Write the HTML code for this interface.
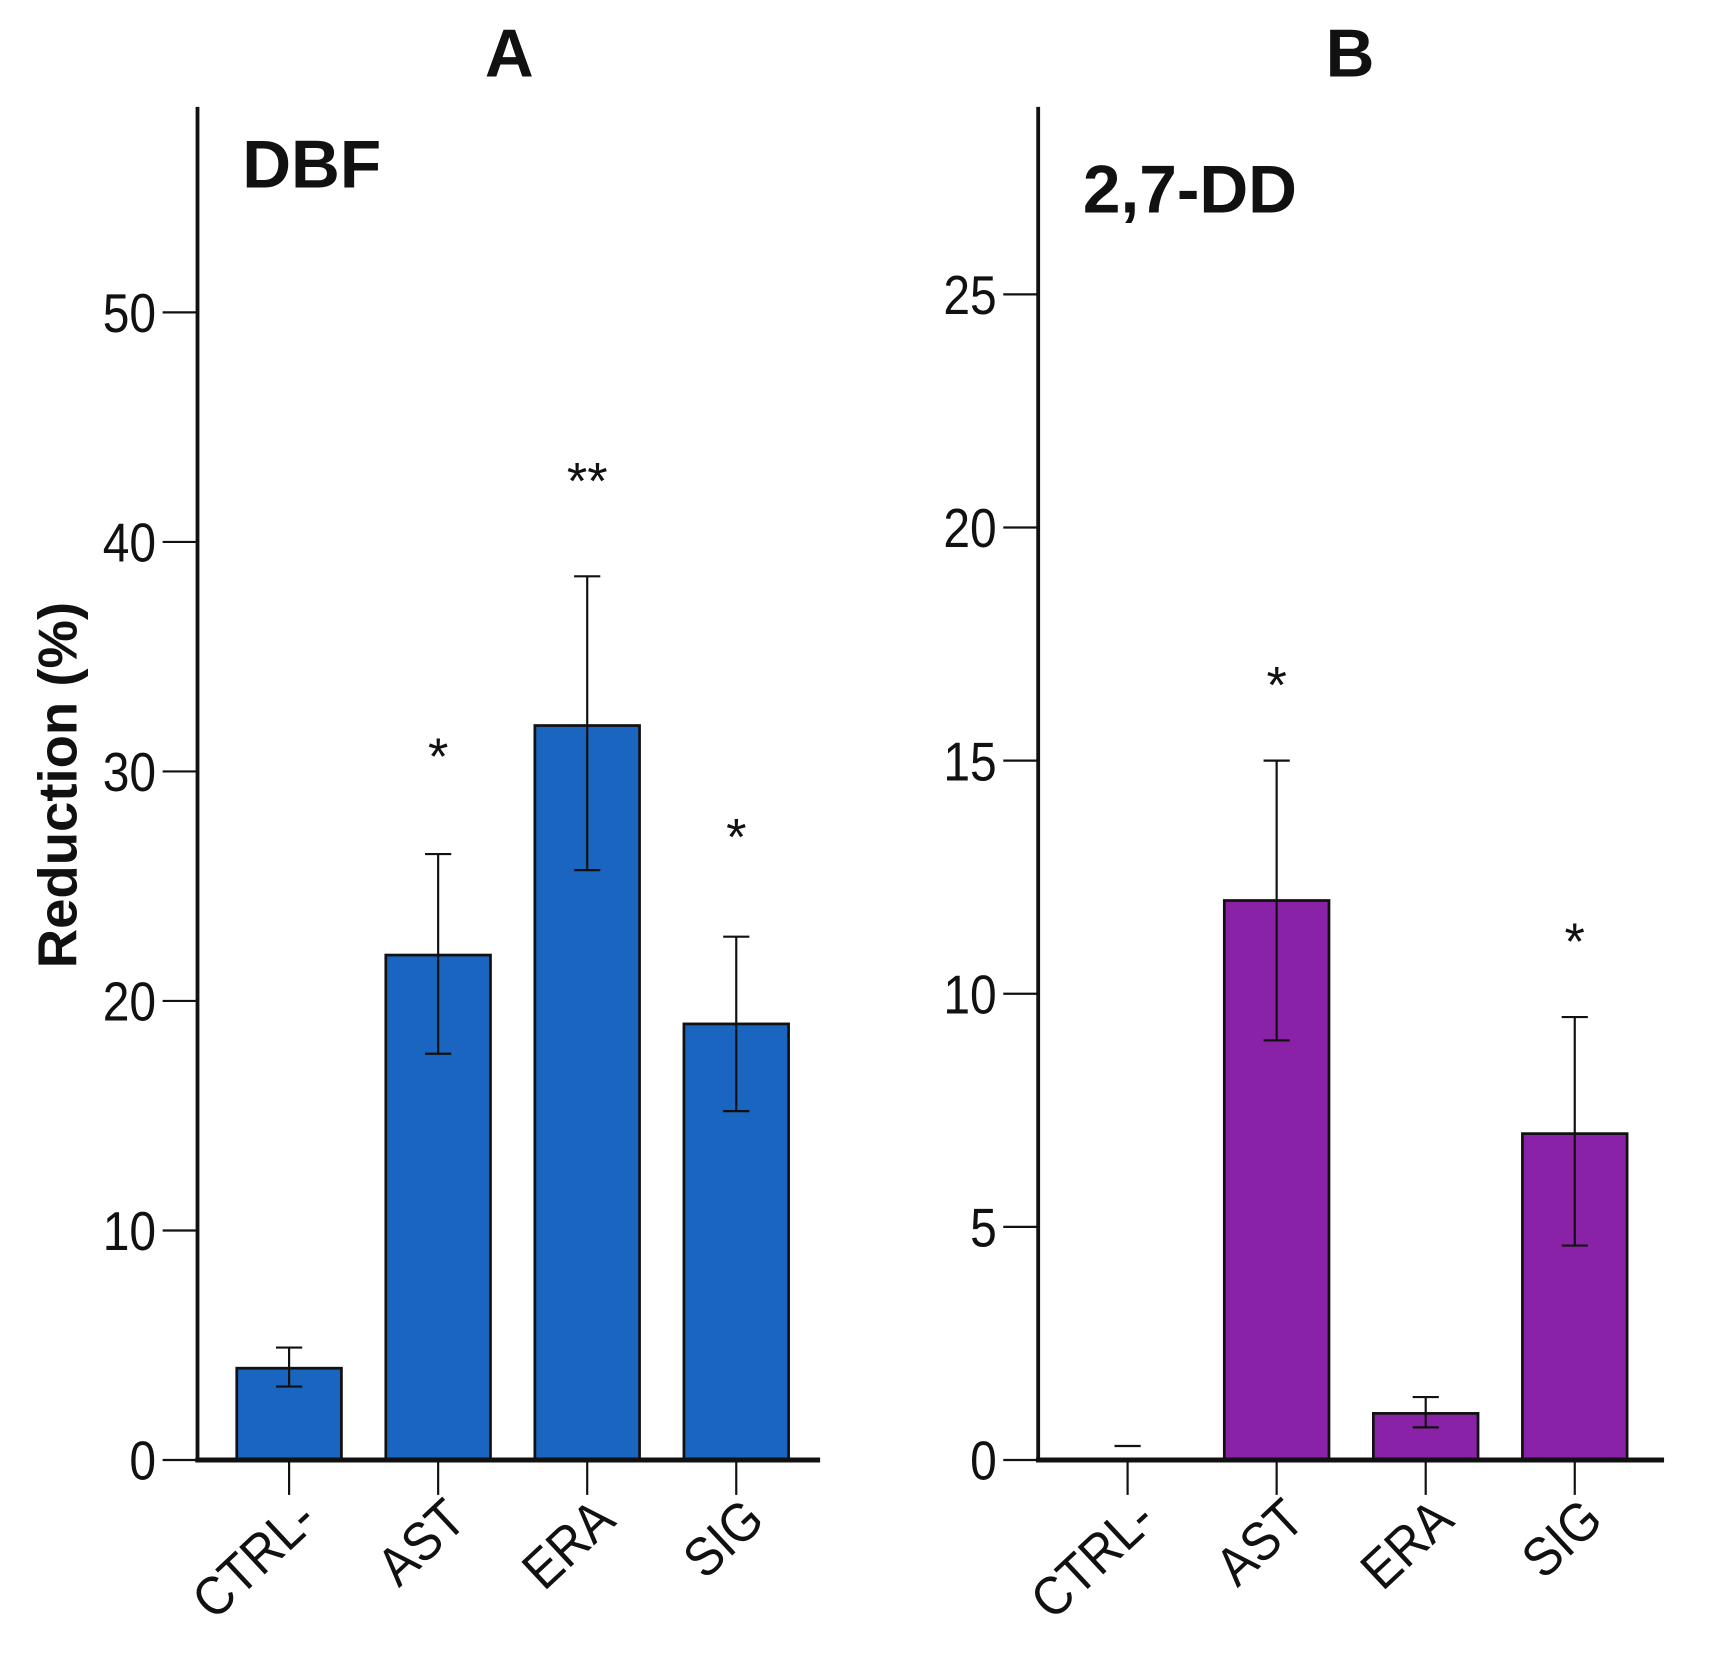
<!DOCTYPE html>
<html><head><meta charset="utf-8"><style>
html,body{margin:0;padding:0;background:#fff}
svg{display:block}
text{font-family:"Liberation Sans",sans-serif;fill:#111}
</style></head><body>
<svg id="chart" width="1710" height="1665" viewBox="0 0 1568 1527" xmlns="http://www.w3.org/2000/svg">
<g id="pa"></g>
<g id="pb"></g>
</svg>
<script>
const categories = ["CTRL-", "AST", "ERA", "SIG"];
const valuesA = [4.0, 22.0, 32.0, 19.0];
const errLowA = [3.2, 17.7, 25.7, 15.2];
const errHighA = [4.9, 26.4, 38.5, 22.8];
const starsA = ["", "*", "**", "*"];
const starValA = [0, 31, 43, 27.5];
const ticksA = [0, 10, 20, 30, 40, 50];
const valuesB = [0, 12.0, 1.0, 7.0];
const errLowB = [0, 9.0, 0.7, 4.6];
const errHighB = [0.3, 15.0, 1.35, 9.5];
const starsB = ["", "*", "", "*"];
const starValB = [0, 16.8, 0, 11.3];
const ticksB = [0, 5, 10, 15, 20, 25];

const NS = "http://www.w3.org/2000/svg";
function mk(parent, tag, attrs, txt){
  const e = document.createElementNS(NS, tag);
  for (const k in attrs) e.setAttribute(k, attrs[k]);
  if (txt !== undefined) e.textContent = txt;
  parent.appendChild(e);
  return e;
}
function panel(g, cfg){
  const y = v => cfg.y0 - v * cfg.pxPerUnit;
  const x = i => cfg.x0 + i * cfg.step;
  let e;
  e = mk(g,'text',{x:cfg.titleX,y:70,'font-size':62,'font-weight':'bold','text-anchor':'middle'},cfg.title);
  
  
  e = mk(g,'text',{x:cfg.subX,y:cfg.subY,'font-size':62,'font-weight':'bold'},cfg.sub);
  
  
  cfg.values.forEach((v,i)=>{
    if (v > 0) {
      const b = mk(g,'rect',{x:x(i)-48,y:y(v),width:96,height:cfg.y0-y(v),fill:cfg.color,stroke:'#111','stroke-width':2.5});
      
      
    }
    const lo=y(cfg.lo[i]), hi=y(cfg.hi[i]);
    const eg = mk(g,'g',{stroke:'#111','stroke-width':2});
    
    
    if (cfg.values[i] > 0) mk(eg,'line',{x1:x(i),x2:x(i),y1:lo,y2:hi});
    mk(eg,'line',{x1:x(i)-12,x2:x(i)+12,y1:hi,y2:hi});
    if (cfg.values[i] > 0) mk(eg,'line',{x1:x(i)-12,x2:x(i)+12,y1:lo,y2:lo});
    if (cfg.stars[i]) {
      const s = mk(g,'text',{x:x(i),y:y(cfg.starVal[i])+24,'font-size':48,'text-anchor':'middle'},cfg.stars[i]);
      
      
    }
    const t = mk(g,'line',{x1:x(i),x2:x(i),y1:cfg.y0,y2:cfg.y0+32,stroke:'#111','stroke-width':2});
    
    
    const l = mk(g,'text',{x:0,y:0,'font-size':50,'text-anchor':'end',transform:`translate(${x(i)+28},${cfg.y0+58}) rotate(-43) scale(0.9,1)`},categories[i]);
    
    
  });
  e = mk(g,'line',{x1:cfg.axX,x2:cfg.axX,y1:98,y2:cfg.y0+2,stroke:'#111','stroke-width':3.5});
  
  
  e = mk(g,'line',{x1:cfg.axX-2,x2:cfg.axEnd,y1:cfg.y0,y2:cfg.y0,stroke:'#111','stroke-width':4.5});
  
  
  cfg.ticks.forEach(tv=>{
    const tl = mk(g,'line',{x1:cfg.axX-32,x2:cfg.axX,y1:y(tv),y2:y(tv),stroke:'#111','stroke-width':2});
    
    
    const tt = mk(g,'text',{x:0,y:0,'font-size':50,'text-anchor':'end',transform:`translate(${cfg.axX-38},${y(tv)+18}) scale(0.88,1)`},String(tv));
    
    
  });
}
panel(document.getElementById('pa'),{
  title:'A',titleX:467,sub:'DBF',subX:222,subY:172,color:'#1a65c0',
  values:valuesA,lo:errLowA,hi:errHighA,stars:starsA,starVal:starValA,ticks:ticksA,
  y0:1339,pxPerUnit:21.05,x0:265,step:136.7,axX:181,axEnd:752
});
panel(document.getElementById('pb'),{
  title:'B',titleX:1238,sub:'2,7-DD',subX:993,subY:195,color:'#8a22a8',
  values:valuesB,lo:errLowB,hi:errHighB,stars:starsB,starVal:starValB,ticks:ticksB,
  y0:1339,pxPerUnit:42.76,x0:1034,step:136.7,axX:952,axEnd:1526
});
const yl = mk(document.getElementById('chart'),'text',{x:0,y:0,'font-size':50,'font-weight':'bold','text-anchor':'middle',transform:'translate(70,720) rotate(-90)'},'Reduction (%)');


</script>
</body></html>
